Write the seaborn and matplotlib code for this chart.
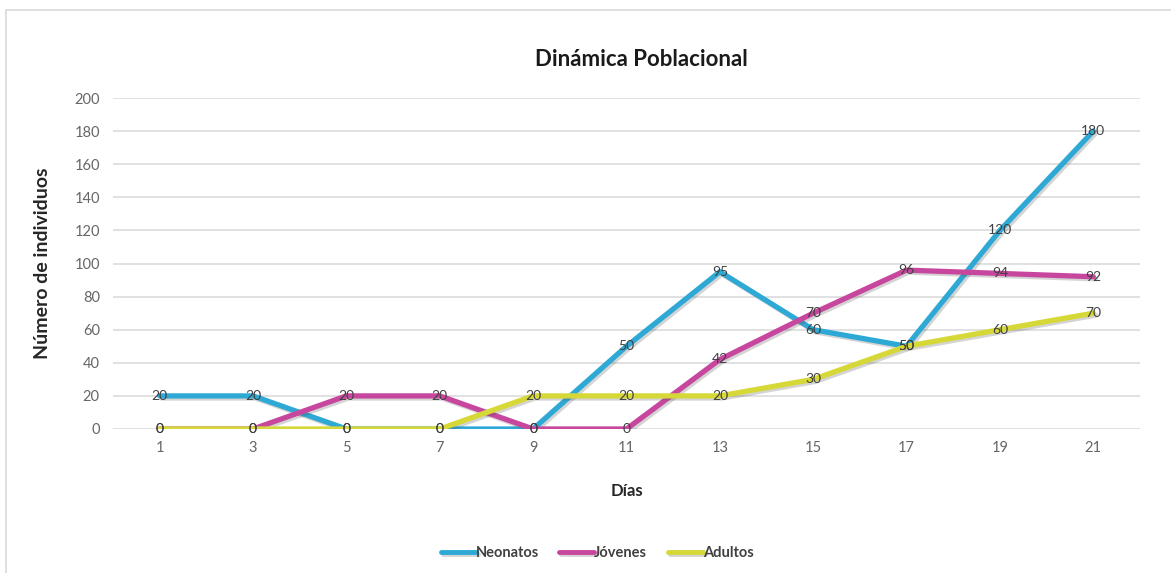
import matplotlib
matplotlib.use("Agg")
import matplotlib.pyplot as plt
import matplotlib.patheffects as pe
from matplotlib.patches import Rectangle
import seaborn as sns
import pandas as pd

dias = [1, 3, 5, 7, 9, 11, 13, 15, 17, 19, 21]
neonatos = [20, 20, 0, 0, 0, 50, 95, 60, 50, 120, 180]
jovenes = [0, 0, 20, 20, 0, 0, 42, 70, 96, 94, 92]
adultos = [0, 0, 0, 0, 20, 20, 20, 30, 50, 60, 70]
series = ["Neonatos", "Jóvenes", "Adultos"]
colores = ["#2ea9d6", "#c8479e", "#d6d838"]
yticks = [0, 20, 40, 60, 80, 100, 120, 140, 160, 180, 200]

df = pd.DataFrame({
    "Días": dias * 3,
    "Número de individuos": neonatos + jovenes + adultos,
    "Serie": [s for s in series for _ in dias],
})

sns.set_theme(style="white")
plt.rcParams["font.family"] = ["Lato", "DejaVu Sans"]

W, H = 1171, 573
fig = plt.figure(figsize=(W / 100, H / 100), dpi=100)
ax = fig.add_axes([113 / W, 1 - 429 / H, (1140 - 113) / W, (429 - 98) / H])

# light outer frame around the chart area
fig.patches.append(Rectangle((6 / W, -0.05), 1.0, 1.05 - 10 / H, transform=fig.transFigure,
                             fill=False, edgecolor="#d9d9d9", linewidth=1.2))

for y in yticks:
    ax.axhline(y, color="#d9d9d9", linewidth=1.1, zorder=0)

sns.lineplot(data=df, x="Días", y="Número de individuos", hue="Serie",
             hue_order=series, palette=colores, linewidth=3.8, ax=ax,
             legend=True, zorder=3,
             path_effects=[pe.SimpleLineShadow(offset=(1.5, -1.5), alpha=0.25, shadow_color="#555555"),
                           pe.Normal()])

for vals in (neonatos, jovenes, adultos):
    for d, v in zip(dias, vals):
        ax.text(d, v, str(v), ha="center", va="center", fontsize=10,
                color="#404040", zorder=5)

ax.set_xlim(0, 22)
ax.set_ylim(0, 200)
ax.set_xticks(dias)
ax.set_yticks(yticks)
ax.tick_params(axis="both", length=0, labelsize=10.5, labelcolor="#666666")
ax.tick_params(axis="x", pad=9)
ax.tick_params(axis="y", pad=9.5)
for s in ax.spines.values():
    s.set_visible(False)

ax.set_xlabel("Días", fontsize=12, fontweight="bold", color="#262626")
ax.set_ylabel("Número de individuos", fontsize=14, fontweight="bold", color="#262626")
ax.xaxis.label.set_va("center")
ax.yaxis.label.set_va("center")
ax.xaxis.set_label_coords(0.5, (429 - 491) / (429 - 98))
ax.yaxis.set_label_coords((43 - 113) / (1140 - 113), 0.5)

fig.text(641 / W, 1 - 60 / H, "Dinámica Poblacional", ha="center", va="center",
         fontsize=16, fontweight="bold", color="#1a1a1a")

handles, labels = ax.get_legend_handles_labels()
leg = ax.legend(handles, labels, loc="center",
                bbox_to_anchor=((597 - 113) / (1140 - 113), (429 - 553) / (429 - 98)),
                ncol=3, frameon=False, fontsize=10.5, handlelength=2.4, handletextpad=0.0,
                columnspacing=1.4)
for t in leg.get_texts():
    t.set_fontweight("bold")
    t.set_color("#404040")
for h in leg.get_lines():
    h.set_linewidth(3.5)

fig.savefig("out.png", dpi=100)
